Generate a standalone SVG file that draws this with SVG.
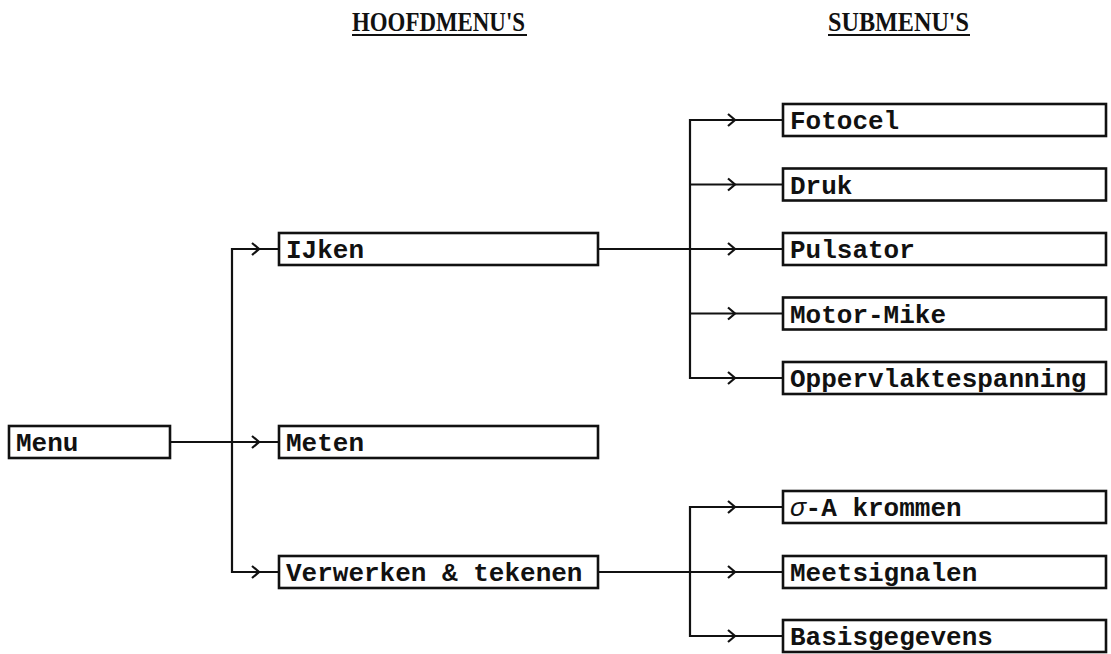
<svg xmlns="http://www.w3.org/2000/svg" xmlns:xlink="http://www.w3.org/1999/xlink" width="1111" height="654" viewBox="0 0 1111 654">
<style>
  .box { fill: #fff; stroke: #111; stroke-width: 2.6; }
  .lbl { font-family: "Liberation Mono", "DejaVu Sans Mono", monospace; font-size: 26px; font-weight: bold; fill: #111; }
  .hdr { font-family: "Liberation Serif", "DejaVu Serif", serif; font-size: 28px; font-weight: bold; fill: #111; }
  .ul { stroke: #111; stroke-width: 2.2; }
  .con { fill: none; stroke: #111; stroke-width: 2.2; }
  .chev { fill: none; stroke: #111; stroke-width: 2.2; stroke-linejoin: miter; }
</style>
<defs>
  <path id="chev" class="chev" d="M-6,-6 Q0,-1 1,0 Q0,1 -6,6"/>
</defs>
<rect width="1111" height="654" fill="#fff"/>

<g id="headers">
  <text class="hdr" x="352" y="31" textLength="173" lengthAdjust="spacingAndGlyphs">HOOFDMENU'S</text>
  <line class="ul" x1="352" y1="35" x2="527" y2="35"/>
  <text class="hdr" x="828" y="31" textLength="141" lengthAdjust="spacingAndGlyphs">SUBMENU'S</text>
  <line class="ul" x1="828" y1="35" x2="970" y2="35"/>
</g>

<g id="connectors">
  <path class="con" d="M170,442 H279"/>
  <path class="con" d="M279,249 H232 V572 H279"/>
  <path class="con" d="M598,249 H783"/>
  <path class="con" d="M783,120 H690 V378 H783"/>
  <path class="con" d="M690,184.5 H783 M690,313.5 H783"/>
  <path class="con" d="M598,572 H783"/>
  <path class="con" d="M783,507 H690 V636 H783"/>
  <use xlink:href="#chev" x="258" y="249"/>
  <use xlink:href="#chev" x="258" y="442"/>
  <use xlink:href="#chev" x="258" y="572"/>
  <use xlink:href="#chev" x="734" y="120"/>
  <use xlink:href="#chev" x="734" y="184.5"/>
  <use xlink:href="#chev" x="734" y="249"/>
  <use xlink:href="#chev" x="734" y="313.5"/>
  <use xlink:href="#chev" x="734" y="378"/>
  <use xlink:href="#chev" x="734" y="507"/>
  <use xlink:href="#chev" x="734" y="572"/>
  <use xlink:href="#chev" x="734" y="636"/>
</g>

<g id="menu"><rect class="box" x="9" y="426" width="161" height="32"/><text class="lbl" x="16" y="451">Menu</text></g>

<g id="ijken"><rect class="box" x="279" y="233" width="319" height="32"/><text class="lbl" x="286" y="258">IJken</text></g>
<g id="meten"><rect class="box" x="279" y="426" width="319" height="32"/><text class="lbl" x="286" y="451">Meten</text></g>
<g id="verwerken"><rect class="box" x="279" y="556" width="319" height="32"/><text class="lbl" x="286" y="581">Verwerken &amp; tekenen</text></g>

<g id="fotocel"><rect class="box" x="783" y="104" width="323" height="32"/><text class="lbl" x="790" y="129">Fotocel</text></g>
<g id="druk"><rect class="box" x="783" y="168.5" width="323" height="32"/><text class="lbl" x="790" y="193.5">Druk</text></g>
<g id="pulsator"><rect class="box" x="783" y="233" width="323" height="32"/><text class="lbl" x="790" y="258">Pulsator</text></g>
<g id="motormike"><rect class="box" x="783" y="297.5" width="323" height="32"/><text class="lbl" x="790" y="322.5">Motor-Mike</text></g>
<g id="oppervlaktespanning"><rect class="box" x="783" y="362" width="323" height="32"/><text class="lbl" x="790" y="387">Oppervlaktespanning</text></g>

<g id="sigma"><rect class="box" x="783" y="491" width="323" height="32"/><text class="lbl" x="790" y="516"><tspan font-style="italic" font-weight="normal">σ</tspan>-A krommen</text></g>
<g id="meetsignalen"><rect class="box" x="783" y="556" width="323" height="32"/><text class="lbl" x="790" y="581">Meetsignalen</text></g>
<g id="basisgegevens"><rect class="box" x="783" y="620" width="323" height="32"/><text class="lbl" x="790" y="645">Basisgegevens</text></g>
</svg>
